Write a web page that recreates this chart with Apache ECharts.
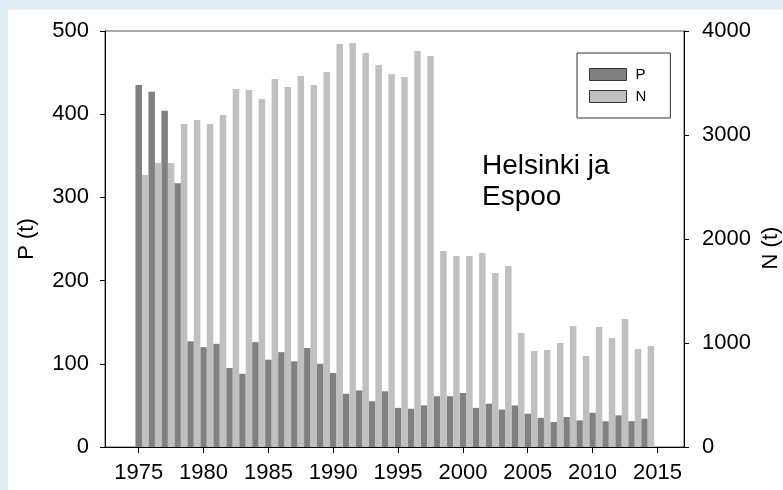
<!DOCTYPE html>
<html>
<head>
<meta charset="utf-8">
<script src="https://cdn.jsdelivr.net/npm/echarts@6/dist/echarts.min.js"></script>
<style>
  html, body { margin: 0; padding: 0; }
  #wrap { position: relative; width: 783px; height: 490px; background: #e2eef6; }
  #main { position: absolute; left: 8px; top: 10px; width: 775px; height: 480px; background: #fff; }
</style>
</head>
<body>
<div id="wrap"><div id="main"></div></div>
<script>
// vuodet
const years = [1975, 1976, 1977, 1978, 1979, 1980, 1981, 1982, 1983, 1984,
  1985, 1986, 1987, 1988, 1989, 1990, 1991, 1992, 1993, 1994,
  1995, 1996, 1997, 1998, 1999, 2000, 2001, 2002, 2003, 2004,
  2005, 2006, 2007, 2008, 2009, 2010, 2011, 2012, 2013, 2014]
// fosfori (t), vasen akseli
const pValues = [435, 427, 404, 317, 127, 120, 124, 95, 88, 126,
  105, 114, 103, 119, 100, 89, 64, 68, 55, 67,
  47, 46, 50, 61, 61, 65, 47, 52, 45, 50,
  40, 35, 30, 36, 32, 41, 31, 38, 31, 34]
// typpi (t), oikea akseli
const nValues = [2615, 2731, 2731, 3106, 3144, 3106, 3192, 3442, 3433, 3346,
  3538, 3462, 3567, 3481, 3606, 3875, 3885, 3788, 3673, 3587,
  3558, 3808, 3760, 1885, 1837, 1837, 1865, 1673, 1740, 1096,
  923, 933, 1000, 1163, 875, 1154, 1048, 1231, 942, 971]
const xTicks = [1975, 1980, 1985, 1990, 1995, 2000, 2005, 2010, 2015]

const font = 'Liberation Sans, Arial, sans-serif'
const chart = echarts.init(document.getElementById('main'))

const xMin = 1972.4
const xMax = 2017.05
const plain = v => String(v) // ei tuhaterottimia

let option = {
  animation: false,
  grid: {
    left: 97,
    right: 99,
    top: 21,
    bottom: 43,
    outerBoundsMode: 'none',
    show: true,
    borderColor: '#555',
    borderWidth: 1
  },
  legend: {
    orient: 'vertical',
    left: 569,
    top: 43,
    icon: 'rect',
    itemWidth: 37,
    itemHeight: 12,
    itemGap: 7,
    padding: [14, 24, 14, 12],
    borderColor: '#333',
    borderWidth: 1,
    textStyle: { fontSize: 15, color: '#000', fontFamily: font, padding: [0, 0, 0, 4] },
    itemStyle: { borderColor: '#333', borderWidth: 1 },
    data: ['P', 'N']
  },
  xAxis: [{
    type: 'value',
    min: xMin,
    max: xMax,
    position: 'bottom',
    axisLine: { show: true, onZero: false, lineStyle: { color: '#000', width: 1 } },
    axisTick: { show: true, length: 6, customValues: xTicks, lineStyle: { color: '#000' } },
    axisLabel: { customValues: xTicks, formatter: plain, fontSize: 22, color: '#000', fontFamily: font, margin: 15 },
    splitLine: { show: false }
  }, {
    type: 'value',
    min: xMin,
    max: xMax,
    show: false
  }],
  yAxis: [{
    type: 'value',
    min: 0,
    max: 500,
    interval: 100,
    position: 'left',
    name: 'P (t)',
    nameLocation: 'middle',
    nameRotate: 90,
    nameGap: 67,
    nameMoveOverlap: false,
    nameTextStyle: { fontSize: 22, color: '#000', fontFamily: font },
    axisLine: { show: true, lineStyle: { color: '#000' } },
    axisTick: { show: true, length: 5, lineStyle: { color: '#000' } },
    axisLabel: { formatter: plain, fontSize: 22, color: '#000', fontFamily: font, margin: 16 },
    splitLine: { show: false }
  }, {
    type: 'value',
    min: 0,
    max: 4000,
    interval: 1000,
    position: 'right',
    name: 'N (t)',
    nameLocation: 'middle',
    nameRotate: 90,
    nameGap: 76,
    nameMoveOverlap: false,
    nameTextStyle: { fontSize: 22, color: '#000', fontFamily: font, padding: [0, 18, 0, 0] },
    axisLine: { show: true, lineStyle: { color: '#000' } },
    axisTick: { show: true, length: 5, lineStyle: { color: '#000' } },
    axisLabel: { formatter: plain, fontSize: 22, color: '#000', fontFamily: font, margin: 18 },
    splitLine: { show: false }
  }],
  graphic: [{
    type: 'text',
    left: 474,
    top: 141,
    style: {
      text: 'Helsinki ja\nEspoo',
      fontSize: 28,
      lineHeight: 31,
      fill: '#000',
      fontFamily: font
    }
  }],
  series: [{
    name: 'P',
    type: 'bar',
    xAxisIndex: 0,
    yAxisIndex: 0,
    barWidth: 6.5,
    itemStyle: { color: '#808080' },
    data: years.map((y, i) => [y, pValues[i]])
  }, {
    name: 'N',
    type: 'bar',
    xAxisIndex: 1,
    yAxisIndex: 1,
    barWidth: 6.5,
    itemStyle: { color: '#c0c0c0' },
    // N-pylväs puoli vuotta oikealle
    data: years.map((y, i) => [y + 0.5, nValues[i]])
  }]
}
chart.setOption(option)
</script>
</body>
</html>
